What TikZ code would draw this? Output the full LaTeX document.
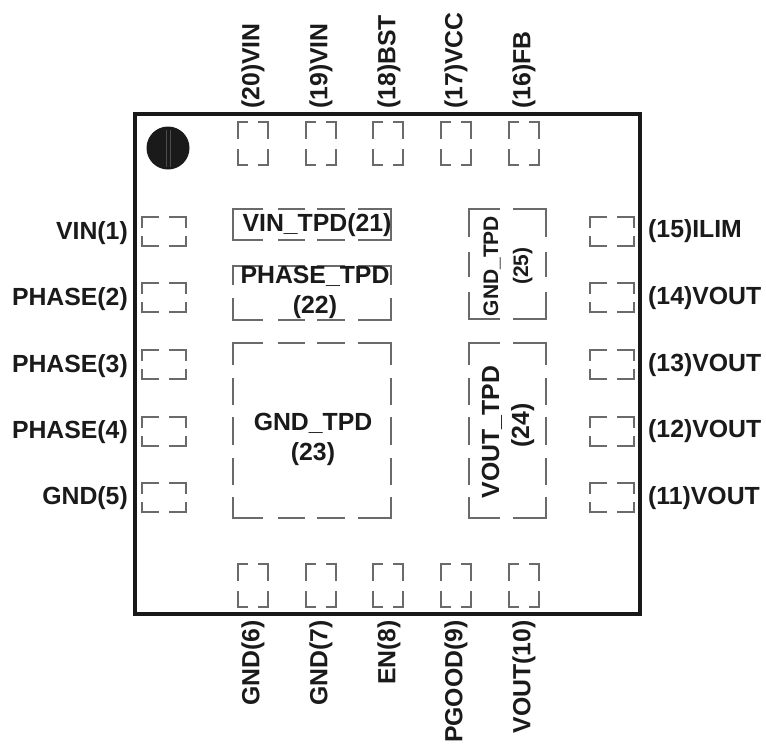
\documentclass[tikz,border=0pt]{standalone}
\usepackage{fontspec}
\setmainfont{Liberation Sans}
\definecolor{padgray}{HTML}{6A6A6A}
\definecolor{ink}{HTML}{1A1A1A}
\tikzset{
  x=1pt,y=-1pt,
  padline/.style={draw=padgray,line width=1.6pt},
  pin/.style={font=\fontsize{24.8}{30}\selectfont\bfseries,text=ink,inner sep=0pt},
  pinr/.style={pin,anchor=east},
  pinl/.style={pin,anchor=west},
  pintop/.style={pin,rotate=90,anchor=west},
  pinbot/.style={pin,rotate=90,anchor=east},
  padlabel/.style={pin,align=center},
}
\newcommand{\pad}[6]{% x1 y1 x2 y2 xgap ygap
  \draw[padline] ({(#1+#3)/2-#5},#2) -- (#1,#2) -- (#1,{(#2+#4)/2-#6});
  \draw[padline] ({(#1+#3)/2+#5},#2) -- (#3,#2) -- (#3,{(#2+#4)/2-#6});
  \draw[padline] ({(#1+#3)/2-#5},#4) -- (#1,#4) -- (#1,{(#2+#4)/2+#6});
  \draw[padline] ({(#1+#3)/2+#5},#4) -- (#3,#4) -- (#3,{(#2+#4)/2+#6});
}
\newcommand{\hpad}[2]{\pad{#1}{#2}{#1+44}{#2+29}{5}{4}}
\newcommand{\vpad}[2]{\pad{#1}{#2}{#1+30}{#2+43}{5}{5}}
\begin{document}
\begin{tikzpicture}
\useasboundingbox (0,0) rectangle (766,745);
\fill[white] (0,0) rectangle (766,745);
% package outline
\node[draw=black!90,line width=4pt,minimum width=505pt,minimum height=500pt,inner sep=0pt,outer sep=0pt,anchor=north west] (pkg) at (135,114) {};
\node[circle,fill=ink,minimum size=43pt,inner sep=0pt,outer sep=0pt] (dot) at (168,148) {};
\draw[black!70,line width=1pt] (dot.north) ++(-1.5,3) -- ++(0,37) ++(4,0) -- ++(0,-37);
% top and bottom pads
\foreach \x in {238,306,373,441,509}{\vpad{\x}{122}\vpad{\x}{564}}
% side pads
\foreach \y in {217,283,350,417,483}{\hpad{142}{\y}\hpad{590}{\y}}
% thermal pads
\draw[padline] (263,209) -- (233,209) -- (233,240) -- (263,240);
\draw[padline] (278,209) -- (305,209) (278,240) -- (305,240);
\draw[padline] (317,209) -- (345,209) (317,240) -- (345,240);
\draw[padline] (358,209) -- (391,209) -- (391,240) -- (358,240);
%
\draw[padline] (263,266) -- (233,266) -- (233,285);
\draw[padline] (233,298) -- (233,320) -- (263,320);
\draw[padline] (278,320) -- (305,320) (317,320) -- (345,320);
\draw[padline] (358,266) -- (391,266) -- (391,285);
\draw[padline] (391,298) -- (391,320) -- (358,320);
\draw[padline] (278,266) -- (305,266) (317,266) -- (345,266);
%
\draw[padline] (263,343) -- (233,343) -- (233,365);
\draw[padline] (233,378) -- (233,405) (233,417) -- (233,445) (233,458) -- (233,485);
\draw[padline] (233,497) -- (233,518) -- (263,518);
\draw[padline] (278,343) -- (305,343) (317,343) -- (345,343);
\draw[padline] (278,518) -- (305,518) (317,518) -- (345,518);
\draw[padline] (358,343) -- (391,343) -- (391,365);
\draw[padline] (391,378) -- (391,405) (391,417) -- (391,445) (391,458) -- (391,485);
\draw[padline] (391,497) -- (391,518) -- (358,518);
%
\draw[padline] (500,209) -- (469,209) -- (469,237);
\draw[padline] (469,252) -- (469,277) (469,292) -- (469,319) -- (500,319);
\draw[padline] (513,209) -- (546,209) -- (546,237);
\draw[padline] (546,252) -- (546,277) (546,292) -- (546,319) -- (513,319);
%
\draw[padline] (500,343) -- (469,343) -- (469,365);
\draw[padline] (469,378) -- (469,405) (469,417) -- (469,445) (469,458) -- (469,485);
\draw[padline] (469,497) -- (469,518) -- (500,518);
\draw[padline] (513,343) -- (546,343) -- (546,365);
\draw[padline] (546,378) -- (546,405) (546,417) -- (546,445) (546,458) -- (546,485);
\draw[padline] (546,497) -- (546,518) -- (513,518);
% labels in pads
\node[padlabel] (t21) at (317,225) {VIN\_TPD(21)};
\node[padlabel] (t22) at (315,292) {PHASE\_TPD\\(22)};
\node[padlabel] (t23) at (313,439) {GND\_TPD\\(23)};
\node[padlabel,rotate=90] (t25) at (508,266) {\fontsize{21}{30}\selectfont GND\_TPD\\\fontsize{21}{30}\selectfont (25)};
\node[padlabel,rotate=90] (t24) at (508,432) {VOUT\_TPD\\\hspace*{13pt}(24)};
% left pin labels
\node[pinr] (p1) at (128,233) {VIN(1)};
\node[pinr] (p2) at (128,299) {PHASE(2)};
\node[pinr] (p3) at (128,366) {PHASE(3)};
\node[pinr] (p4) at (128,432) {PHASE(4)};
\node[pinr] (p5) at (128,498) {GND(5)};
% right pin labels
\node[pinl] (p15) at (648,231) {(15)ILIM};
\node[pinl] (p14) at (648,298) {(14)VOUT};
\node[pinl] (p13) at (648,365) {(13)VOUT};
\node[pinl] (p12) at (648,431) {(12)VOUT};
\node[pinl] (p11) at (648,498) {(11)VOUT};
% top pin labels
\node[pintop] (p20) at (253,109) {(20)VIN};
\node[pintop] (p19) at (321,109) {(19)VIN};
\node[pintop] (p18) at (389,109) {(18)BST};
\node[pintop] (p17) at (456,109) {(17)VCC};
\node[pintop] (p16) at (524,109) {(16)FB};
% bottom pin labels
\node[pinbot] (p6) at (253,620) {GND(6)};
\node[pinbot] (p7) at (321,620) {GND(7)};
\node[pinbot] (p8) at (389,620) {EN(8)};
\node[pinbot] (p9) at (456,620) {PGOOD(9)};
\node[pinbot] (p10) at (524,620) {VOUT(10)};
\end{tikzpicture}
\end{document}
